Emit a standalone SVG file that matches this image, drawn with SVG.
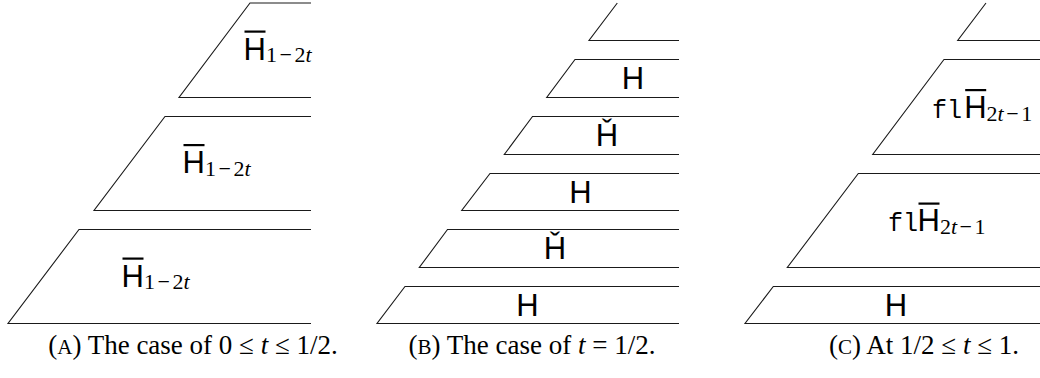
<svg xmlns="http://www.w3.org/2000/svg" width="1040" height="378" viewBox="0 0 1040 378">
<style>
.edge{fill:none;stroke:#1a1a1a;stroke-width:1.1}
.sf{font-family:"Liberation Sans",Arial,"DejaVu Sans",sans-serif;font-size:31px;fill:#000}
.sub{font-family:"Liberation Serif","Times New Roman",serif;font-size:22px;fill:#000}
.it{font-style:italic}
.tt{font-family:"Liberation Mono","DejaVu Sans Mono",monospace;font-size:25px;fill:#000}
.cap{font-family:"Liberation Serif","Times New Roman","DejaVu Serif",serif;font-size:27px;fill:#000}
.sc{font-size:21px}
.bar{fill:#000}
</style>
<rect width="1040" height="378" fill="#fff"/>

<g id="panelA">
  <g id="a1">
    <path class="edge" d="M311,3 H250 L179,97.5 H311"/>
    <text class="sf" x="243.5" y="59.5">H</text>
    <rect class="bar" x="244.5" y="30.5" width="21" height="2.2"/>
    <text class="sub" x="266" y="62">1<tspan dx="2.5">−</tspan><tspan dx="2.5">2</tspan><tspan class="it">t</tspan></text>
  </g>
  <g id="a2">
    <path class="edge" d="M311,116.5 H165 L94,210.5 H311"/>
    <text class="sf" x="182.5" y="173">H</text>
    <rect class="bar" x="183.5" y="144" width="21" height="2.2"/>
    <text class="sub" x="205" y="175.5">1<tspan dx="2.5">−</tspan><tspan dx="2.5">2</tspan><tspan class="it">t</tspan></text>
  </g>
  <g id="a3">
    <path class="edge" d="M311,229.5 H79 L8,323.5 H311"/>
    <text class="sf" x="121.5" y="286.5">H</text>
    <rect class="bar" x="122.5" y="257.5" width="21" height="2.2"/>
    <text class="sub" x="144" y="289">1<tspan dx="2.5">−</tspan><tspan dx="2.5">2</tspan><tspan class="it">t</tspan></text>
  </g>
  <text id="capA" class="cap" x="193" y="354" text-anchor="middle">(<tspan class="sc">A</tspan>) The case of 0 ≤ <tspan class="it">t</tspan> ≤ 1/2.</text>
</g>

<g id="panelB">
  <g id="b1"><path class="edge" d="M617.3,3 L589,40.5 H679"/></g>
  <g id="b2">
    <path class="edge" d="M679,59.5 H575 L546.7,97.5 H679"/>
    <text class="sf" x="633" y="89" text-anchor="middle">H</text>
  </g>
  <g id="b3">
    <path class="edge" d="M679,116.5 H532.5 L504.3,154.5 H679"/>
    <text class="sf" x="607" y="146" text-anchor="middle">Ȟ</text>
  </g>
  <g id="b4">
    <path class="edge" d="M679,173.5 H490 L461.7,210.5 H679"/>
    <text class="sf" x="580.5" y="202.5" text-anchor="middle">H</text>
  </g>
  <g id="b5">
    <path class="edge" d="M679,229.5 H447.5 L419.3,267.5 H679"/>
    <text class="sf" x="555" y="259" text-anchor="middle">Ȟ</text>
  </g>
  <g id="b6">
    <path class="edge" d="M679,286.5 H405 L377,323.5 H679"/>
    <text class="sf" x="527.5" y="315.5" text-anchor="middle">H</text>
  </g>
  <text id="capB" class="cap" x="532" y="354" text-anchor="middle">(<tspan class="sc">B</tspan>) The case of <tspan class="it">t</tspan> = 1/2.</text>
</g>

<g id="panelC">
  <g id="c1"><path class="edge" d="M986,3 L957.7,40.5 H1040"/></g>
  <g id="c2">
    <path class="edge" d="M1040,59.5 H944 L872.7,154.5 H1040"/>
    <text class="tt" x="932" y="117.5">fl</text>
    <text class="sf" x="964.2" y="117.5">H</text>
    <rect class="bar" x="965.2" y="89" width="21" height="2.2"/>
    <text class="sub" x="986.6" y="120.5">2<tspan class="it">t</tspan><tspan dx="2.5">−</tspan><tspan dx="2.5">1</tspan></text>
  </g>
  <g id="c3">
    <path class="edge" d="M1040,173.5 H858.3 L787.3,267.5 H1040"/>
    <text class="tt" x="888" y="231">fl</text>
    <text class="sf" x="917.5" y="231">H</text>
    <rect class="bar" x="918.5" y="202.5" width="21" height="2.2"/>
    <text class="sub" x="939.9" y="234">2<tspan class="it">t</tspan><tspan dx="2.5">−</tspan><tspan dx="2.5">1</tspan></text>
  </g>
  <g id="c4">
    <path class="edge" d="M1040,286.5 H773.3 L745,323.5 H1040"/>
    <text class="sf" x="896" y="315.5" text-anchor="middle">H</text>
  </g>
  <text id="capC" class="cap" x="924" y="354" text-anchor="middle">(<tspan class="sc">C</tspan>) At 1/2 ≤ <tspan class="it">t</tspan> ≤ 1.</text>
</g>
</svg>
